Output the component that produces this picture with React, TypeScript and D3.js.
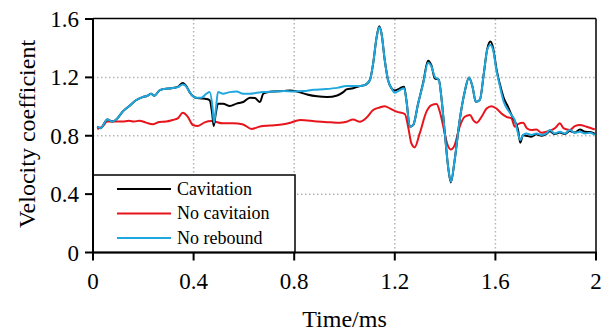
import React from "react";
import * as d3 from "d3";

const xTicks = [0, 0.4, 0.8, 1.2, 1.6, 2];
const yTicks = [0, 0.4, 0.8, 1.2, 1.6];
const seriesNames = ["Cavitation", "No cavitaion", "No rebound"];
const seriesColors = ["#000000", "#e8141b", "#1fa8df"];

const cavT = [0.017,0.03,0.057,0.077,0.097,0.117,0.143,0.171,0.197,0.217,0.231,0.244,0.264,0.284,0.311,0.337,0.357,0.371,0.384,0.408,0.431,0.451,0.464,0.474,0.48,0.488,0.497,0.517,0.544,0.571,0.597,0.624,0.644,0.664,0.677,0.697,0.717,0.757,0.784,0.811,0.851,0.891,0.931,0.971,0.995,1.008,1.034,1.061,1.081,1.101,1.114,1.127,1.138,1.147,1.16,1.173,1.187,1.2,1.22,1.237,1.246,1.26,1.273,1.293,1.313,1.332,1.346,1.359,1.375,1.385,1.399,1.412,1.423,1.438,1.458,1.478,1.495,1.509,1.522,1.538,1.554,1.567,1.58,1.591,1.604,1.617,1.633,1.65,1.664,1.677,1.69,1.699,1.71,1.723,1.743,1.763,1.783,1.803,1.816,1.836,1.856,1.876,1.896,1.916,1.936,1.956,1.976,1.995];
const cavV = [0.863,0.852,0.912,0.897,0.919,0.964,1.002,1.043,1.065,1.074,1.088,1.074,1.11,1.121,1.126,1.135,1.162,1.14,1.099,1.061,1.056,1.052,1.043,0.95,0.867,0.95,1.02,1.02,1.004,1.02,1.031,1.061,1.058,1.031,1.088,1.099,1.103,1.106,1.11,1.103,1.083,1.07,1.065,1.076,1.099,1.118,1.125,1.141,1.147,1.182,1.296,1.467,1.55,1.502,1.319,1.182,1.125,1.11,1.125,1.136,1.045,0.862,0.873,1.022,1.165,1.314,1.28,1.193,1.185,1.067,0.816,0.587,0.48,0.633,0.907,1.102,1.2,1.136,1.033,1.045,1.227,1.39,1.445,1.4,1.26,1.159,1.06,0.999,0.942,0.9,0.839,0.752,0.805,0.8,0.793,0.81,0.8,0.812,0.83,0.812,0.822,0.812,0.832,0.823,0.843,0.827,0.825,0.815];

const rebT = [0.017,0.03,0.057,0.077,0.097,0.117,0.143,0.171,0.197,0.217,0.231,0.244,0.264,0.284,0.311,0.337,0.357,0.371,0.384,0.408,0.431,0.451,0.464,0.475,0.481,0.488,0.497,0.517,0.544,0.571,0.597,0.624,0.651,0.677,0.717,0.757,0.797,0.837,0.877,0.917,0.971,1.008,1.034,1.061,1.081,1.101,1.114,1.127,1.138,1.147,1.16,1.173,1.187,1.2,1.22,1.237,1.246,1.26,1.273,1.293,1.313,1.332,1.346,1.359,1.375,1.385,1.399,1.412,1.423,1.438,1.458,1.478,1.495,1.509,1.522,1.538,1.554,1.567,1.58,1.591,1.604,1.617,1.633,1.65,1.664,1.677,1.69,1.699,1.71,1.723,1.743,1.763,1.783,1.803,1.816,1.836,1.856,1.876,1.896,1.916,1.936,1.956,1.976,1.995];
const rebV = [0.863,0.852,0.912,0.897,0.919,0.964,1.002,1.043,1.065,1.074,1.088,1.074,1.11,1.121,1.126,1.133,1.151,1.137,1.099,1.061,1.061,1.088,1.099,0.998,0.89,0.975,1.099,1.088,1.099,1.103,1.088,1.088,1.094,1.099,1.103,1.106,1.103,1.106,1.115,1.119,1.128,1.141,1.141,1.141,1.147,1.182,1.296,1.467,1.543,1.502,1.319,1.182,1.125,1.095,1.113,1.125,1.045,0.862,0.873,1.022,1.159,1.3,1.273,1.205,1.182,1.067,0.816,0.587,0.484,0.633,0.907,1.102,1.2,1.136,1.033,1.045,1.227,1.387,1.422,1.387,1.25,1.147,1.033,0.976,0.942,0.907,0.816,0.77,0.805,0.816,0.805,0.816,0.805,0.816,0.839,0.816,0.827,0.816,0.839,0.82,0.827,0.816,0.82,0.805];

const noCavT = [0.017,0.037,0.057,0.09,0.117,0.143,0.164,0.184,0.211,0.237,0.264,0.291,0.317,0.337,0.357,0.377,0.397,0.417,0.444,0.471,0.517,0.557,0.594,0.631,0.664,0.704,0.757,0.777,0.824,0.891,0.944,0.981,1.008,1.034,1.061,1.087,1.114,1.14,1.16,1.18,1.207,1.24,1.253,1.266,1.279,1.299,1.326,1.346,1.366,1.379,1.393,1.408,1.423,1.438,1.458,1.478,1.499,1.512,1.525,1.545,1.565,1.584,1.604,1.624,1.644,1.664,1.677,1.69,1.71,1.726,1.743,1.763,1.783,1.803,1.823,1.84,1.856,1.872,1.896,1.916,1.936,1.962,1.995];
const noCavV = [0.845,0.863,0.897,0.897,0.897,0.903,0.897,0.903,0.89,0.879,0.894,0.897,0.908,0.919,0.957,0.93,0.874,0.867,0.892,0.901,0.885,0.885,0.879,0.847,0.863,0.87,0.879,0.885,0.908,0.897,0.892,0.889,0.896,0.912,0.896,0.923,0.976,0.994,1.003,0.987,0.965,0.949,0.862,0.747,0.72,0.816,0.965,1.01,1.017,0.965,0.862,0.747,0.706,0.736,0.862,0.93,0.942,0.907,0.889,0.93,0.987,1.003,0.987,0.953,0.93,0.919,0.862,0.88,0.889,0.85,0.839,0.843,0.82,0.827,0.839,0.857,0.885,0.85,0.839,0.866,0.873,0.862,0.843];

const W = 610, H = 333;
const x = d3.scaleLinear().domain([0, 2]).range([93, 596]);
const y = d3.scaleLinear().domain([0, 1.6]).range([252.5, 19]);
const FONT = "Times New Roman, Liberation Serif, DejaVu Serif, serif";

function toPts(t: number[], v: number[]): [number, number][] {
  return t.map((ti, i) => [ti, v[i]]);
}

export default function App() {
  const line = d3.line<[number, number]>()
    .x(d => x(d[0]))
    .y(d => y(d[1]))
    .curve(d3.curveMonotoneX);

  const data = [
    { name: seriesNames[1], color: seriesColors[1], pts: toPts(noCavT, noCavV) },
    { name: seriesNames[0], color: seriesColors[0], pts: toPts(cavT, cavV) },
    { name: seriesNames[2], color: seriesColors[2], pts: toPts(rebT, rebV) },
  ];

  const fmt = (d: number) => (d === 0 ? "0" : d === 2 ? "2" : d.toFixed(1));
  const [x0, x1] = x.range();
  const [yb, yt] = y.range();
  const ts = { fontFamily: FONT };

  return (
    <svg width={W} height={H} style={{ position: "absolute", left: 0, top: 0, background: "#fff", fontFamily: FONT }}>
      <rect x={0} y={0} width={W} height={H} fill="#fff" />
      {xTicks.filter(t => t > 0 && t < 2).map(t => (
        <line key={"gx" + t} x1={x(t)} x2={x(t)} y1={yt} y2={yb} stroke="#b5b5b5" strokeWidth={1.5} strokeDasharray="1.5,2.5" />
      ))}
      {yTicks.filter(t => t > 0 && t < 1.6).map(t => (
        <line key={"gy" + t} x1={x0} x2={x1} y1={y(t)} y2={y(t)} stroke="#b5b5b5" strokeWidth={1.5} strokeDasharray="1.5,2.5" />
      ))}
      {data.map(s => (
        <path key={s.name} d={line(s.pts) || ""} fill="none" stroke={s.color} strokeWidth={2} strokeLinejoin="round" />
      ))}
      <line x1={x0} x2={x1} y1={yt - 0.5} y2={yt - 0.5} stroke="#000" strokeWidth={1.5} />
      <line x1={x1} x2={x1} y1={yt - 0.5} y2={yb} stroke="#000" strokeWidth={1.5} />
      <rect x={x0} y={175} width={202} height={yb - 175} fill="#fff" stroke="#000" strokeWidth={1.5} />
      {[0, 1, 2].map(i => (
        <g key={"lg" + i}>
          <line x1={117} x2={171} y1={189 + i * 24.5} y2={189 + i * 24.5} stroke={seriesColors[i]} strokeWidth={2} />
          <text x={177} y={189 + i * 24.5} dy="0.33em" fontSize={18} fill="#000" style={ts}>{seriesNames[i]}</text>
        </g>
      ))}
      <line x1={x0} x2={x0} y1={yt - 1} y2={yb + 1} stroke="#000" strokeWidth={2} />
      <line x1={x0 - 1} x2={x1 + 1} y1={yb} y2={yb} stroke="#000" strokeWidth={2} />
      {yTicks.map(t => (
        <g key={"yt" + t}>
          <line x1={x0 - 8} x2={x0} y1={y(t)} y2={y(t)} stroke="#000" strokeWidth={2} />
          <text x={x0 - 14} y={y(t)} dy="0.35em" textAnchor="end" fontSize={23} fill="#000" style={ts}>{fmt(t)}</text>
        </g>
      ))}
      {xTicks.map(t => (
        <g key={"xt" + t}>
          <line x1={x(t)} x2={x(t)} y1={yb} y2={yb + 8} stroke="#000" strokeWidth={2} />
          <text x={x(t)} y={281} dy="0.35em" textAnchor="middle" fontSize={23} fill="#000" style={ts}>{fmt(t)}</text>
        </g>
      ))}
      <text x={(x0 + x1) / 2} y={319} dy="0.35em" textAnchor="middle" fontSize={24} fill="#000" style={ts}>Time/ms</text>
      <text transform={`translate(27,134) rotate(-90)`} dy="0.35em" textAnchor="middle" fontSize={24} fill="#000" style={ts}>Velocity coefficient</text>
    </svg>
  );
}
